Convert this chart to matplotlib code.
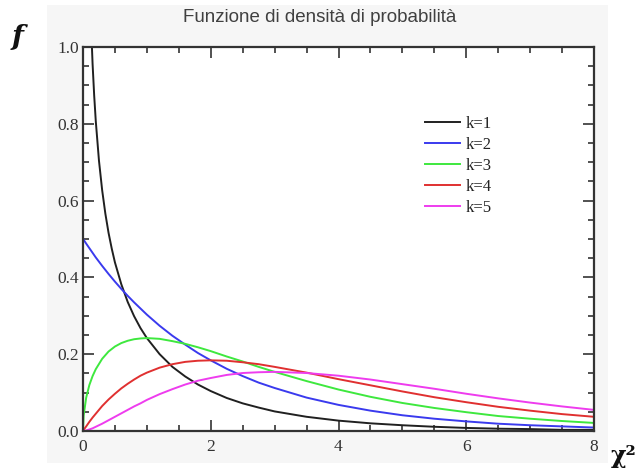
import matplotlib
matplotlib.use("Agg")
import matplotlib.pyplot as plt
from matplotlib.patches import Rectangle
from matplotlib.ticker import MultipleLocator, FuncFormatter

# ---- data ----
x_vals = [0, 0.01, 0.05, 0.1, 0.15, 0.2, 0.3, 0.4, 0.5, 0.6, 0.7, 0.8, 0.9, 1.0, 1.2, 1.4, 1.6,
          1.8, 2.0, 2.25, 2.5, 2.75, 3.0, 3.5, 4.0, 4.5, 5.0, 5.5, 6.0, 6.5, 7.0, 7.5, 8.0]

x_k1 = [0.12, 0.15, 0.175, 0.2, 0.25, 0.3, 0.35, 0.4, 0.45, 0.5, 0.6, 0.7, 0.8, 0.9, 1.0, 1.2,
        1.4, 1.6, 1.8, 2.0, 2.25, 2.5, 2.75, 3.0, 3.5, 4.0, 4.5, 5.0, 5.5, 6.0, 6.5, 7.0, 7.5, 8.0]
y_k1 = [1.085, 0.956, 0.874, 0.807, 0.704, 0.627, 0.566, 0.516, 0.475, 0.439, 0.382, 0.336,
        0.299, 0.268, 0.242, 0.200, 0.167, 0.142, 0.121, 0.104, 0.086, 0.072, 0.061, 0.051,
        0.037, 0.027, 0.020, 0.015, 0.011, 0.008, 0.006, 0.005, 0.003, 0.003]

y_k2 = [0.5, 0.498, 0.488, 0.476, 0.464, 0.452, 0.430, 0.409, 0.389, 0.370, 0.352, 0.335, 0.319,
        0.303, 0.274, 0.248, 0.225, 0.203, 0.184, 0.162, 0.143, 0.126, 0.112, 0.087, 0.068,
        0.053, 0.041, 0.032, 0.025, 0.019, 0.015, 0.012, 0.009]

y_k3 = [0.0, 0.040, 0.087, 0.120, 0.143, 0.161, 0.188, 0.207, 0.220, 0.229, 0.235, 0.239, 0.241,
        0.242, 0.240, 0.234, 0.227, 0.218, 0.208, 0.194, 0.181, 0.167, 0.154, 0.130, 0.108,
        0.089, 0.073, 0.060, 0.049, 0.039, 0.032, 0.026, 0.021]

y_k4 = [0.0, 0.003, 0.012, 0.024, 0.035, 0.045, 0.065, 0.082, 0.097, 0.111, 0.123, 0.134, 0.144,
        0.152, 0.165, 0.174, 0.180, 0.183, 0.184, 0.183, 0.179, 0.174, 0.167, 0.152, 0.135,
        0.119, 0.103, 0.088, 0.075, 0.063, 0.053, 0.044, 0.037]

y_k5 = [0.0, 0.0001, 0.0015, 0.004, 0.007, 0.011, 0.019, 0.028, 0.037, 0.046, 0.055, 0.064, 0.072,
        0.081, 0.096, 0.109, 0.121, 0.131, 0.138, 0.146, 0.151, 0.153, 0.154, 0.151, 0.144,
        0.134, 0.122, 0.110, 0.097, 0.085, 0.074, 0.064, 0.055]

labels = ["k=1", "k=2", "k=3", "k=4", "k=5"]
colors = ["#202020", "#3a3aee", "#3ee83e", "#e03030", "#ee3cee"]

title = "Funzione di densità di probabilità"

# ---- figure ----
fig = plt.figure(figsize=(6.41, 4.72), dpi=100)
fig.patch.set_facecolor("white")
fig.patches.append(Rectangle((47 / 641, 1 - 463 / 472), (608 - 47) / 641, (463 - 5) / 472,
                             transform=fig.transFigure, facecolor="#f6f6f6",
                             edgecolor="none", zorder=-10))

ax = fig.add_axes([83 / 641, 1 - 431 / 472, (594 - 83) / 641, (431 - 47) / 472])
ax.set_zorder(5)
ax.set_facecolor("white")

series = [(x_k1, y_k1), (x_vals, y_k2), (x_vals, y_k3), (x_vals, y_k4), (x_vals, y_k5)]
for (xs, ys), lab, c in zip(series, labels, colors):
    ax.plot(xs, ys, color=c, lw=1.4, label=lab)

ax.set_xlim(0, 8)
ax.set_ylim(0, 1.0)
ax.xaxis.set_major_locator(MultipleLocator(2))
ax.xaxis.set_minor_locator(MultipleLocator(0.5))
ax.yaxis.set_major_locator(MultipleLocator(0.2))
ax.yaxis.set_minor_locator(MultipleLocator(0.05))
ax.xaxis.set_major_formatter(FuncFormatter(lambda v, p: f"{v:.0f}"))
ax.yaxis.set_major_formatter(FuncFormatter(lambda v, p: f"{v:.1f}"))
ax.tick_params(which="both", direction="in", top=True, right=True, color="#333333", width=1.2)
ax.tick_params(which="major", length=8)
ax.tick_params(which="minor", length=4)
ax.tick_params(axis="both", labelsize=12.5, labelcolor="#333333")
for lbl in ax.get_xticklabels() + ax.get_yticklabels():
    lbl.set_fontfamily("Liberation Serif")
ax.tick_params(axis="x", pad=6)
ax.tick_params(axis="y", pad=3)
for s in ax.spines.values():
    s.set_color("#333333")
    s.set_linewidth(1.6)

leg = ax.legend(loc="upper left", bbox_to_anchor=(0.64, 0.86), frameon=False,
                prop={"family": "Liberation Serif", "size": 12},
                handlelength=2.1, handletextpad=0.35, labelspacing=0.3)
for t in leg.get_texts():
    t.set_color("#222222")

fig.text(0.5 * (183 + 457) / 641, 1 - 18 / 472, title, ha="center", va="center",
         fontsize=13.5, color="#404040", family="Liberation Sans")

fig.text(18 / 641, 1 - 38 / 472, "f", ha="center", va="center", fontsize=20,
         fontstyle="italic", fontweight="bold", family="DejaVu Serif", color="#111111")
fig.text(624 / 641, 1 - 456 / 472, "χ²", ha="center", va="center", fontsize=17,
         fontweight="bold", family="DejaVu Serif", color="#111111")

fig.savefig("out.png", dpi=100)
